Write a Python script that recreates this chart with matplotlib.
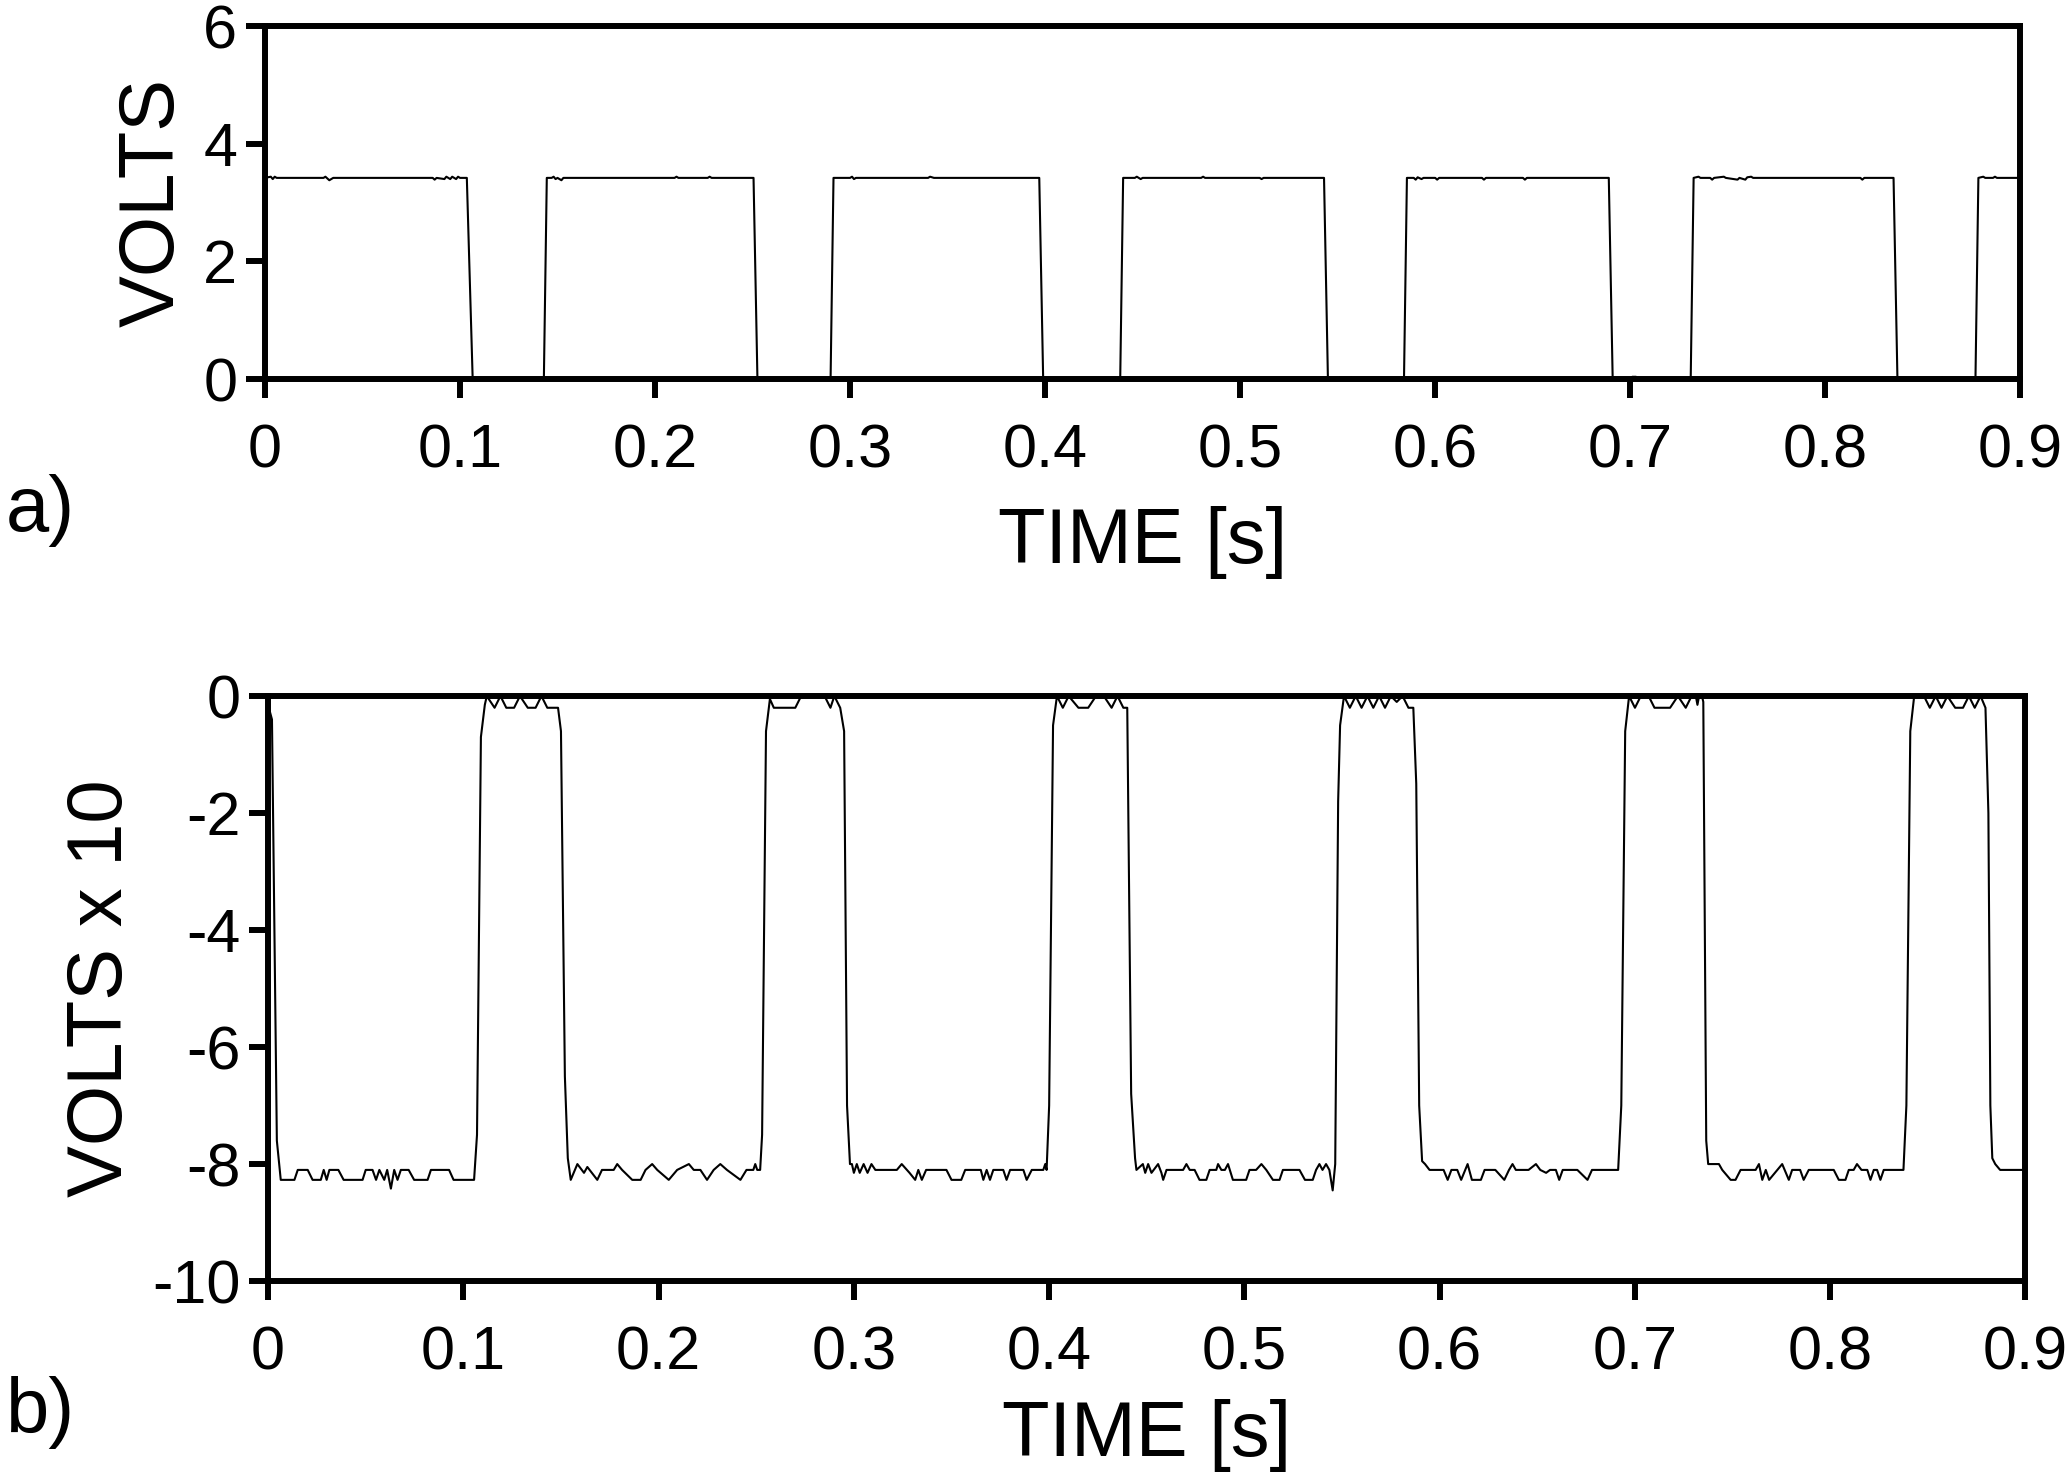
import matplotlib
matplotlib.use("Agg")
import matplotlib.pyplot as plt

plt.rcParams['font.family'] = ['Liberation Sans', 'DejaVu Sans']
plt.rcParams['axes.unicode_minus'] = False

# panel a) : (time [s], volts) vertices
trace_a = [
    (0.000, 3.42), (0.003, 3.44), (0.004, 3.40), (0.005, 3.44), (0.006, 3.42), (0.030, 3.42),
    (0.031, 3.44), (0.033, 3.38), (0.035, 3.42), (0.086, 3.42), (0.087, 3.39), (0.088, 3.42),
    (0.092, 3.40), (0.093, 3.44), (0.095, 3.40), (0.096, 3.44), (0.098, 3.40), (0.099, 3.44),
    (0.100, 3.42), (0.1035, 3.42),
    (0.1065, 0.0), (0.108, 0.02), (0.109, 0.0), (0.143, 0.0),
    (0.1445, 3.42), (0.147, 3.42), (0.148, 3.44), (0.149, 3.40), (0.150, 3.42), (0.152, 3.38),
    (0.153, 3.42), (0.210, 3.42), (0.211, 3.44), (0.212, 3.42), (0.227, 3.42), (0.228, 3.44),
    (0.229, 3.42), (0.2505, 3.42),
    (0.2525, 0.0), (0.272, 0.0), (0.273, 0.03), (0.274, 0.0), (0.290, 0.0),
    (0.2915, 3.42), (0.300, 3.42), (0.301, 3.44), (0.302, 3.40), (0.303, 3.42), (0.340, 3.42),
    (0.341, 3.44), (0.343, 3.42), (0.397, 3.42),
    (0.399, 0.0), (0.4385, 0.0),
    (0.440, 3.42), (0.446, 3.42), (0.447, 3.44), (0.449, 3.40), (0.450, 3.42), (0.480, 3.42),
    (0.481, 3.44), (0.482, 3.42), (0.510, 3.42), (0.511, 3.40), (0.512, 3.42), (0.543, 3.42),
    (0.545, 0.0), (0.550, 0.0), (0.551, 0.03), (0.552, 0.0), (0.556, 0.0), (0.557, 0.03),
    (0.558, 0.0), (0.584, 0.0),
    (0.5855, 3.42), (0.589, 3.42), (0.590, 3.39), (0.591, 3.43), (0.593, 3.40), (0.594, 3.42),
    (0.600, 3.42), (0.601, 3.39), (0.602, 3.42), (0.624, 3.42), (0.625, 3.39), (0.626, 3.42),
    (0.645, 3.42), (0.646, 3.39), (0.647, 3.42), (0.689, 3.42),
    (0.691, 0.0), (0.700, 0.0), (0.701, 0.04), (0.703, 0.04), (0.704, 0.0), (0.731, 0.0),
    (0.7325, 3.42), (0.735, 3.44), (0.736, 3.42), (0.741, 3.42), (0.742, 3.39), (0.743, 3.42),
    (0.748, 3.44), (0.749, 3.42), (0.755, 3.39), (0.756, 3.42), (0.759, 3.39), (0.760, 3.43),
    (0.762, 3.44), (0.763, 3.42), (0.818, 3.42), (0.819, 3.39), (0.820, 3.42), (0.835, 3.42),
    (0.837, 0.0), (0.859, 0.0), (0.860, 0.03), (0.861, 0.0), (0.877, 0.0),
    (0.8785, 3.42), (0.881, 3.44), (0.882, 3.42), (0.886, 3.42), (0.887, 3.44), (0.888, 3.42),
    (0.900, 3.42),
]

# panel b) : (time [s], volts x 10)
trace_b = [
    (0.000, -0.15), (0.002, -0.4), (0.0045, -7.6), (0.0065, -8.27), (0.0135, -8.27),
    (0.0152, -8.1), (0.0203, -8.1), (0.0228, -8.27), (0.027, -8.27), (0.0285, -8.1),
    (0.030, -8.27), (0.0314, -8.1), (0.036, -8.1), (0.0387, -8.27), (0.0484, -8.27),
    (0.050, -8.1), (0.0535, -8.1), (0.0553, -8.27), (0.057, -8.1), (0.0595, -8.27),
    (0.061, -8.1), (0.0629, -8.42), (0.0646, -8.1), (0.0663, -8.27), (0.068, -8.1),
    (0.072, -8.1), (0.0748, -8.27), (0.0817, -8.27), (0.0834, -8.1), (0.0927, -8.1),
    (0.095, -8.27), (0.1055, -8.27),
    (0.107, -7.5), (0.109, -0.7), (0.111, -0.15), (0.112, 0.0),
    (0.116, -0.2), (0.119, 0.0), (0.122, -0.2), (0.126, -0.2), (0.129, 0.0), (0.133, -0.2),
    (0.137, -0.2), (0.140, 0.0), (0.143, -0.2), (0.1485, -0.2),
    (0.150, -0.6), (0.152, -6.5), (0.1535, -7.9), (0.155, -8.27),
    (0.1584, -8.0), (0.1618, -8.15), (0.1635, -8.05), (0.1686, -8.27), (0.171, -8.1),
    (0.177, -8.1), (0.1788, -8.0), (0.1813, -8.1), (0.1865, -8.27), (0.1908, -8.27),
    (0.1933, -8.1), (0.1967, -8.0), (0.1993, -8.1), (0.2052, -8.27), (0.2095, -8.1),
    (0.2155, -8.0), (0.218, -8.1), (0.2214, -8.1), (0.2248, -8.27), (0.2282, -8.1),
    (0.2316, -8.0), (0.235, -8.1), (0.2419, -8.27), (0.245, -8.1), (0.2485, -8.1),
    (0.2495, -8.0), (0.2505, -8.1), (0.252, -8.1),
    (0.253, -7.5), (0.255, -0.6), (0.257, -0.05),
    (0.259, -0.2), (0.270, -0.2), (0.273, 0.0), (0.285, 0.0), (0.288, -0.2), (0.290, 0.0),
    (0.293, -0.2),
    (0.295, -0.6), (0.2965, -7.0), (0.298, -8.0), (0.299, -8.0),
    (0.300, -8.15), (0.3015, -8.0), (0.303, -8.15), (0.305, -8.0), (0.307, -8.15),
    (0.309, -8.0), (0.311, -8.1), (0.322, -8.1), (0.3245, -8.0), (0.3285, -8.15),
    (0.3314, -8.27), (0.333, -8.1), (0.3348, -8.27), (0.337, -8.1), (0.3474, -8.1),
    (0.350, -8.27), (0.355, -8.27), (0.357, -8.1), (0.365, -8.1), (0.3663, -8.27),
    (0.368, -8.1), (0.3697, -8.27), (0.3714, -8.1), (0.3765, -8.1), (0.3782, -8.27),
    (0.380, -8.1), (0.3868, -8.1), (0.3885, -8.27), (0.3911, -8.1), (0.397, -8.1),
    (0.398, -8.0), (0.3987, -8.1),
    (0.400, -7.0), (0.402, -0.5), (0.404, 0.0),
    (0.407, -0.2), (0.410, 0.0), (0.415, -0.2), (0.420, -0.2), (0.424, 0.0), (0.428, 0.0),
    (0.432, -0.2), (0.435, 0.0), (0.438, -0.2), (0.440, -0.2),
    (0.442, -6.8), (0.444, -7.9), (0.4447, -8.1),
    (0.448, -8.0), (0.4492, -8.15), (0.4507, -8.0), (0.4524, -8.15), (0.4558, -8.0),
    (0.4575, -8.15), (0.4584, -8.27), (0.4601, -8.1), (0.4686, -8.1), (0.4703, -8.0),
    (0.472, -8.1), (0.4745, -8.1), (0.477, -8.27), (0.4805, -8.27), (0.4822, -8.1),
    (0.4856, -8.1), (0.4865, -8.0), (0.4882, -8.1), (0.490, -8.1), (0.4916, -8.0),
    (0.4941, -8.27), (0.5009, -8.27), (0.5026, -8.1), (0.506, -8.1), (0.5087, -8.0),
    (0.5112, -8.1), (0.5146, -8.27), (0.518, -8.27), (0.5197, -8.1), (0.5282, -8.1),
    (0.531, -8.27), (0.535, -8.27), (0.5367, -8.1), (0.5384, -8.0), (0.540, -8.1),
    (0.5418, -8.0), (0.5435, -8.1), (0.5452, -8.45),
    (0.5465, -8.0), (0.548, -1.8), (0.549, -0.5), (0.551, 0.0),
    (0.554, -0.2), (0.557, 0.0), (0.560, -0.2), (0.563, 0.0), (0.566, -0.2), (0.569, 0.0),
    (0.572, -0.2), (0.575, 0.0), (0.578, -0.1), (0.581, 0.0), (0.584, -0.2), (0.5865, -0.2),
    (0.588, -1.5), (0.5895, -7.0), (0.591, -7.95), (0.5925, -8.0),
    (0.5948, -8.1), (0.602, -8.1), (0.6041, -8.27), (0.606, -8.1), (0.609, -8.1),
    (0.611, -8.27), (0.6143, -8.0), (0.6165, -8.27), (0.6211, -8.27), (0.623, -8.1),
    (0.6285, -8.1), (0.6331, -8.27), (0.6355, -8.1), (0.6373, -8.0), (0.639, -8.1),
    (0.6455, -8.1), (0.6493, -8.0), (0.6515, -8.1), (0.6545, -8.15), (0.6565, -8.1),
    (0.6595, -8.1), (0.6612, -8.27), (0.663, -8.1), (0.6705, -8.1), (0.6757, -8.27),
    (0.678, -8.1), (0.6914, -8.1),
    (0.693, -7.0), (0.695, -0.6), (0.697, 0.0),
    (0.700, -0.2), (0.703, 0.0), (0.707, 0.0), (0.710, -0.2), (0.718, -0.2), (0.722, 0.0),
    (0.726, -0.2), (0.729, 0.0), (0.7305, 0.12), (0.732, -0.15), (0.7335, 0.12), (0.735, -0.1),
    (0.7365, -7.6), (0.7375, -8.0), (0.743, -8.0), (0.7447, -8.1), (0.749, -8.27),
    (0.7515, -8.27), (0.7541, -8.1), (0.7618, -8.1), (0.7635, -8.0), (0.7652, -8.27),
    (0.767, -8.1), (0.7687, -8.27), (0.7754, -8.0), (0.7788, -8.27), (0.7805, -8.1),
    (0.7846, -8.1), (0.7864, -8.27), (0.789, -8.1), (0.8018, -8.1), (0.8044, -8.27),
    (0.8078, -8.27), (0.8095, -8.1), (0.812, -8.1), (0.8137, -8.0), (0.816, -8.1),
    (0.819, -8.1), (0.8206, -8.27), (0.8223, -8.1), (0.824, -8.1), (0.8257, -8.27),
    (0.8274, -8.1), (0.8375, -8.1),
    (0.839, -7.0), (0.841, -0.6), (0.843, 0.0),
    (0.848, 0.0), (0.851, -0.2), (0.854, 0.0), (0.857, -0.2), (0.860, 0.0), (0.864, -0.2),
    (0.868, -0.2), (0.871, 0.0), (0.874, -0.2), (0.877, 0.0), (0.8795, -0.2),
    (0.881, -2.0), (0.882, -7.0), (0.883, -7.9), (0.8845, -8.0), (0.887, -8.1), (0.900, -8.1),
]

xticks = [0, 0.1, 0.2, 0.3, 0.4, 0.5, 0.6, 0.7, 0.8, 0.9]
xticklabels = ["0", "0.1", "0.2", "0.3", "0.4", "0.5", "0.6", "0.7", "0.8", "0.9"]
yticks_a = [0, 2, 4, 6]
yticks_b = [-10, -8, -6, -4, -2, 0]

fig = plt.figure(figsize=(20.7, 14.81), dpi=100)
ax_a = fig.add_axes([0.128, 0.744, 0.848, 0.2384])
ax_b = fig.add_axes([0.1295, 0.135, 0.849, 0.395])

spine_w = 4.3
tick_fs = 44
label_fs = 56

for ax, trace, ylim, yticks, ylabel, xpad in [
        (ax_a, trace_a, (0, 6), yticks_a, "VOLTS", 18),
        (ax_b, trace_b, (-10, 0), yticks_b, "VOLTS x 10", 12)]:
    t, v = zip(*trace)
    ax.plot(t, v, color="black", lw=1.5)
    ax.set_xlim(0, 0.9)
    ax.set_ylim(*ylim)
    ax.set_xticks(xticks)
    ax.set_xticklabels(xticklabels)
    ax.set_yticks(yticks)
    ax.set_yticklabels([str(y) for y in yticks])
    for s in ax.spines.values():
        s.set_linewidth(spine_w)
    ax.tick_params(direction="out", length=14, width=spine_w, labelsize=tick_fs)
    ax.tick_params(axis="x", pad=18)
    ax.tick_params(axis="y", pad=6)
    ax.set_xlabel("TIME [s]", fontsize=label_fs, labelpad=xpad)
    ax.set_ylabel(ylabel, fontsize=label_fs, labelpad=10)

fig.text(0.003, 0.655, "a)", fontsize=label_fs, va="center", ha="left")
fig.text(0.003, 0.046, "b)", fontsize=label_fs, va="center", ha="left")

fig.savefig("out.png", dpi=100)
